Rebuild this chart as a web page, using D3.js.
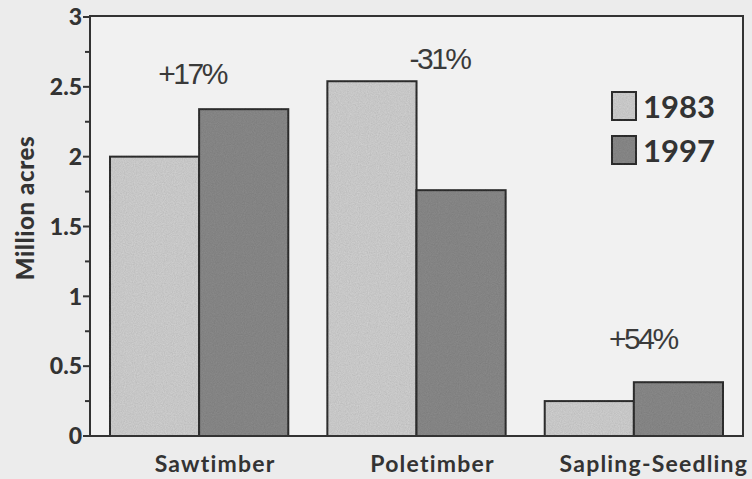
<!DOCTYPE html>
<html>
<head>
<meta charset="utf-8">
<script src="https://cdn.jsdelivr.net/npm/d3@7"></script>
<style>
    body { margin: 0; background: #ececec; }
    svg { display: block; }
</style>
</head>
<body>
<svg id="chart" width="752" height="479"></svg>
<script>
// data
const categories = ['Sawtimber', 'Poletimber', 'Sapling-Seedling'];
const years = ['1983', '1997'];
const values1983 = [2.0, 2.54, 0.25];
const values1997 = [2.34, 1.76, 0.385];
const changeLabels = ['+17%', '-31%', '+54%'];
const yTicks = [0, 0.5, 1, 1.5, 2, 2.5, 3];
const yTickLabels = ['0', '0.5', '1', '1.5', '2', '2.5', '3'];

const width = 752, height = 479;
const margin = { left: 90, right: 9, top: 16, bottom: 43 };
const colors = { '1983': '#d3d3d3', '1997': '#8c8c8c' };
const ink = '#333';
const boldFont = 'Lato, "Open Sans", sans-serif';

const svg = d3.select('#chart');

const rows = categories.map((c, i) => ({
    category: c,
    values: [
        { year: '1983', value: values1983[i] },
        { year: '1997', value: values1997[i] }
    ],
    change: changeLabels[i]
}));

const x = d3.scaleBand()
    .domain(categories)
    .range([margin.left, width - margin.right])
    .paddingInner(0.18)
    .paddingOuter(0.092);

const xInner = d3.scaleBand()
    .domain(years)
    .range([0, x.bandwidth()]);

const y = d3.scaleLinear()
    .domain([0, 3])
    .range([height - margin.bottom, margin.top + 1]);

// slight paper grain for the scanned look
const defs = svg.append('defs');
const grain = defs.append('filter').attr('id', 'grain');
grain.append('feTurbulence')
    .attr('type', 'fractalNoise')
    .attr('baseFrequency', 0.9)
    .attr('numOctaves', 2)
    .attr('result', 'noise');
grain.append('feColorMatrix')
    .attr('in', 'noise')
    .attr('type', 'matrix')
    .attr('values', '0 0 0 0 0  0 0 0 0 0  0 0 0 0 0  0 0 0 0.25 0')
    .attr('result', 'dots');
grain.append('feComposite').attr('in', 'dots').attr('in2', 'SourceGraphic').attr('operator', 'in').attr('result', 'clipped');
grain.append('feMerge').selectAll('feMergeNode')
    .data(['SourceGraphic', 'clipped'])
    .enter().append('feMergeNode').attr('in', d => d);

// plot area
svg.append('rect')
    .attr('x', margin.left)
    .attr('y', margin.top)
    .attr('width', width - margin.left - margin.right)
    .attr('height', height - margin.top - margin.bottom)
    .attr('fill', '#f1f1f1');

// bars
const groups = svg.selectAll('g.bar-group')
    .data(rows)
    .enter()
    .append('g')
    .attr('class', 'bar-group')
    .attr('transform', d => `translate(${x(d.category)},0)`);

groups.selectAll('rect')
    .data(d => d.values)
    .enter()
    .append('rect')
    .attr('x', d => xInner(d.year))
    .attr('y', d => y(d.value))
    .attr('width', xInner.bandwidth())
    .attr('height', d => y(0) - y(d.value))
    .attr('fill', d => colors[d.year])
    .attr('stroke', ink)
    .attr('stroke-width', 2)
    .attr('filter', 'url(#grain)');

// percent change labels (hand placed in the original)
const labelDx = [-7, 23, 9];
const labelY = [2.52, 2.63, 0.62];
groups.append('text')
    .attr('x', (d, i) => x.bandwidth() / 2 + labelDx[i])
    .attr('y', (d, i) => y(labelY[i]))
    .attr('text-anchor', 'middle')
    .attr('font-family', '"Liberation Sans", Arial, sans-serif')
    .attr('font-size', 30)
    .attr('letter-spacing', -2.5)
    .attr('fill', '#3a3a3a')
    .text(d => d.change);

// frame
svg.append('rect')
    .attr('x', margin.left)
    .attr('y', margin.top)
    .attr('width', width - margin.left - margin.right)
    .attr('height', height - margin.top - margin.bottom)
    .attr('fill', 'none')
    .attr('stroke', ink)
    .attr('stroke-width', 2);

// y axis with minor ticks
const yAxis = svg.append('g')
    .attr('transform', `translate(${margin.left},0)`);

yAxis.selectAll('line.minor')
    .data(d3.range(0.25, 3, 0.5))
    .enter()
    .append('line')
    .attr('x1', -5).attr('x2', 0)
    .attr('y1', d => y(d)).attr('y2', d => y(d))
    .attr('stroke', ink).attr('stroke-width', 2);

yAxis.selectAll('line.major')
    .data(yTicks)
    .enter()
    .append('line')
    .attr('x1', -7).attr('x2', 0)
    .attr('y1', d => y(d)).attr('y2', d => y(d))
    .attr('stroke', ink).attr('stroke-width', 2);

yAxis.selectAll('text')
    .data(yTicks)
    .enter()
    .append('text')
    .attr('x', -8)
    .attr('y', d => y(d))
    .attr('dy', '0.36em')
    .attr('text-anchor', 'end')
    .attr('font-family', boldFont)
    .attr('font-weight', 900)
    .attr('font-size', 23)
    .attr('fill', ink)
    .text((d, i) => yTickLabels[i]);

svg.append('text')
    .attr('transform', `translate(34, ${(margin.top + height - margin.bottom) / 2 - 18}) rotate(-90)`)
    .attr('text-anchor', 'middle')
    .attr('font-family', boldFont)
    .attr('font-weight', 900)
    .attr('font-size', 24)
    .attr('letter-spacing', 0.6)
    .attr('fill', ink)
    .text('Million acres');

// category labels
svg.selectAll('text.cat')
    .data(categories)
    .enter()
    .append('text')
    .attr('class', 'cat')
    .attr('x', (d, i) => x(d) + x.bandwidth() / 2 + (i === 2 ? 20 : 16))
    .attr('y', height - 7)
    .attr('text-anchor', 'middle')
    .attr('font-family', boldFont)
    .attr('font-weight', 'bold')
    .attr('font-size', 23)
    .attr('letter-spacing', 1.2)
    .attr('fill', ink)
    .text(d => d);

// legend
const legend = svg.append('g')
    .attr('transform', 'translate(612, 92)');

const legendItems = legend.selectAll('g')
    .data(years)
    .enter()
    .append('g')
    .attr('transform', (d, i) => `translate(0, ${i * 44})`);

legendItems.append('rect')
    .attr('width', 24)
    .attr('height', 28)
    .attr('fill', d => colors[d])
    .attr('stroke', ink)
    .attr('stroke-width', 2)
    .attr('filter', 'url(#grain)');

legendItems.append('text')
    .attr('x', 31)
    .attr('y', 26)
    .attr('font-family', boldFont)
    .attr('font-weight', 'bold')
    .attr('font-size', 31)
    .attr('fill', ink)
    .text(d => d);
</script>
</body>
</html>
